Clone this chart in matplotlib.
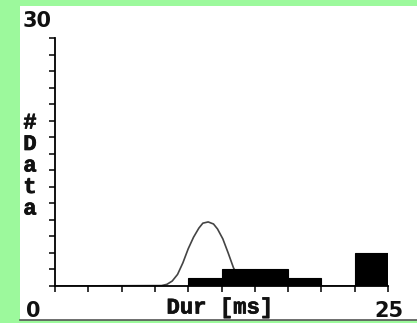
import matplotlib.pyplot as plt
import matplotlib.patheffects as pe
from matplotlib.patches import Rectangle
from matplotlib.lines import Line2D

# histogram bins (left edges, ms) and counts
bin_left = [10.0, 12.5, 15.0, 17.5, 20.0, 22.5]
counts = [1, 2, 2, 1, 0, 4]
bin_width = 2.5

# fitted curve, points (ms, count)
curve_x = [0.0, 8.0, 8.4, 8.8, 9.2, 9.6, 10.0, 10.4, 10.8, 11.1, 11.5,
           11.9, 12.2, 12.6, 13.0, 13.4, 13.8, 14.2, 14.6, 25.0]
curve_y = [0.0, 0.05, 0.2, 0.6, 1.4, 2.8, 4.5, 5.9, 7.0, 7.6, 7.75,
           7.5, 6.9, 5.7, 4.0, 2.2, 1.0, 0.35, 0.0, 0.0]

x_max = 25
y_max = 30
y_label = '#Data'
x_label = 'Dur [ms]'

W, H = 417, 323
green = '#9cf99c'
ink = '#111111'
font = dict(family='Liberation Mono', weight='bold', size=16, color=ink,
            path_effects=[pe.withStroke(linewidth=0.5, foreground=ink)])
num_font = dict(family='DejaVu Sans', weight='bold', size=15, color=ink)


def px(x, y):
    # pixel position (from top-left) to figure fraction
    return x / W, 1 - y / H


fig = plt.figure(figsize=(W / 100, H / 100), dpi=100, facecolor=green)

# white panel
x0, y0 = px(20, 320)
x1, y1 = px(417, 6)
fig.patches.append(Rectangle((x0, y0), x1 - x0, y1 - y0, transform=fig.transFigure,
                             facecolor='white', edgecolor='none', zorder=-5))
fig.lines.append(Line2D([x0, x1], [y0, y0], transform=fig.transFigure,
                        color='#555555', lw=1.2, zorder=-4))

left, bottom = px(55, 286)
right, top = px(388, 38)
ax = fig.add_axes([left, bottom, right - left, top - bottom], zorder=2)
ax.set_facecolor('none')

ax.plot(curve_x, curve_y, color='#444444', lw=1.2, zorder=2)
ax.bar(bin_left, counts, width=bin_width, align='edge', color='black',
       edgecolor='black', lw=0.8, zorder=3)

ax.set_xlim(0, x_max)
ax.set_ylim(0, y_max)
ax.set_xticks([i * 2.5 for i in range(11)])
ax.set_yticks(range(0, y_max + 1, 2))
ax.tick_params(axis='both', direction='out', length=4, width=1.1,
               labelbottom=False, labelleft=False)
for s in ['top', 'right']:
    ax.spines[s].set_visible(False)
for s in ['left', 'bottom']:
    ax.spines[s].set_linewidth(1.3)

# labels drawn as plain texts like the original
fig.text(*px(37, 21), str(y_max), ha='center', va='center', **num_font)
fig.text(*px(33, 311), '0', ha='center', va='center', **num_font)
fig.text(*px(389, 311), str(x_max), ha='center', va='center', **num_font)
fig.text(*px(220, 308), x_label, ha='center', va='center', **font)

for i, ch in enumerate(y_label):
    fig.text(*px(30, 123 + i * 21.5), ch, ha='center', va='center', **font)

fig.savefig('out.png', dpi=100, facecolor=green)
